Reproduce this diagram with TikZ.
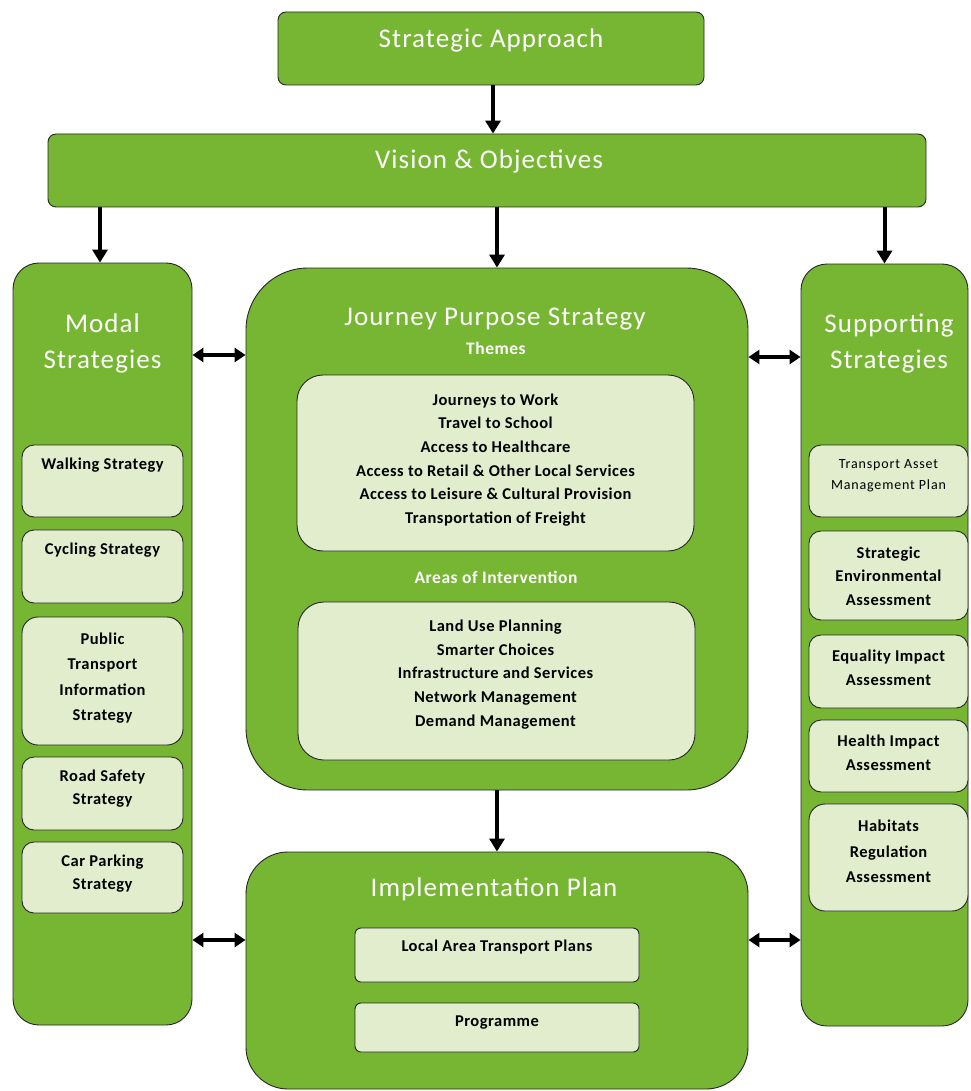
\documentclass[tikz,border=0pt]{standalone}
\usepackage{fontspec}
\setmainfont{Carlito}
\usetikzlibrary{shapes,arrows.meta,positioning}

\definecolor{leaf}{RGB}{118,182,50}
\definecolor{pale}{RGB}{225,237,205}

\tikzset{
    green box/.style={draw=black!85,line width=0.9pt,fill=leaf,rounded corners=#1,inner sep=0pt},
    green box/.default=10pt,
    pale box/.style={draw=black!85,line width=0.9pt,fill=pale,rounded corners=#1,inner sep=0pt},
    pale box/.default=10pt,
    heading/.style={text=white,font=\fontsize{27}{36}\selectfont\addfontfeatures{LetterSpace=4},align=center,inner sep=0pt},
    subhead/.style={text=white,font=\bfseries\fontsize{17.5}{20}\selectfont\addfontfeatures{LetterSpace=3},inner sep=0pt},
    item/.style={font=\bfseries\fontsize{16.5}{23.7}\selectfont\addfontfeatures{LetterSpace=3},align=center,inner sep=0pt},
    flow/.style={line width=4pt,-{Triangle[length=13pt,width=15pt]}},
    both/.style={line width=4pt,{Triangle[length=11pt,width=14pt]}-{Triangle[length=11pt,width=14pt]}}
}

\begin{document}
\begin{tikzpicture}[x=1pt,y=-1pt]
    \useasboundingbox (0,0) rectangle (970,1091);

    % top boxes
    \node[green box=8pt,minimum width=426pt,minimum height=73pt] (approach) at (491,48.5) {};
    \node[heading] (approachT) at (491,40) {Strategic Approach};
    \node[green box=8pt,minimum width=878pt,minimum height=73pt] (vision) at (487,170.5) {};
    \node[heading] (visionT) at (489,161) {Vision \& Objectives};

    % the three columns
    \node[green box=26pt,minimum width=179pt,minimum height=762pt] (modal) at (102.5,644) {};
    \node[heading] (modalT) at (102.5,343) {Modal\\Strategies};
    \node[green box=26pt,minimum width=167pt,minimum height=762pt] (supp) at (884.5,645) {};
    \node[heading] (suppT) at (889,343) {Supporting\\Strategies};
    \node[green box=62pt,minimum width=502pt,minimum height=522pt] (journey) at (497,529) {};
    \node[heading] (journeyT) at (495,319) {Journey Purpose Strategy};
    \node[subhead] (themesT) at (496,348) {Themes};
    \node[subhead] (areasT) at (496,577) {Areas of Intervention};

    \node[pale box=26pt,minimum width=397pt,minimum height=176pt] (themes) at (495.5,463) {};
    \node[item] (themesL) at (495.5,460) {Journeys to Work\\Travel to School\\Access to Healthcare\\
        Access to Retail \& Other Local Services\\Access to Leisure \& Cultural Provision\\Transportation of Freight};
    \node[pale box=26pt,minimum width=397pt,minimum height=158pt] (areas) at (496.5,681) {};
    \node[item] (areasL) at (495.5,674.5) {Land Use Planning\\Smarter Choices\\Infrastructure and Services\\
        Network Management\\Demand Management};

    \node[green box=42pt,minimum width=502pt,minimum height=237pt] (impl) at (497,970.5) {};
    \node[heading] (implT) at (494,889) {Implementation Plan};
    \node[pale box=6pt,minimum width=284pt,minimum height=54pt] (latp) at (497,955) {};
    \node[item] (latpT) at (497,947) {Local Area Transport Plans};
    \node[pale box=6pt,minimum width=284pt,minimum height=49pt] (prog) at (497,1027.5) {};
    \node[item] (progT) at (497,1023) {Programme};

    % modal strategies
    \node[pale box=12pt,minimum width=161pt,minimum height=72pt] (walk) at (102.5,481) {};
    \node[item] at (102.5,465) {Walking Strategy};
    \node[pale box=12pt,minimum width=161pt,minimum height=73pt] (cycle) at (102.5,566.5) {};
    \node[item] at (102.5,550) {Cycling Strategy};
    \node[pale box=16pt,minimum width=161pt,minimum height=128pt] (pti) at (102.5,681) {};
    \node[item,font=\bfseries\fontsize{16.5}{25.3}\selectfont\addfontfeatures{LetterSpace=3}] at (102.5,678) {Public\\Transport\\Information\\Strategy};
    \node[pale box=12pt,minimum width=161pt,minimum height=73pt] (road) at (102.5,793.5) {};
    \node[item] at (102.5,788.5) {Road Safety\\Strategy};
    \node[pale box=12pt,minimum width=161pt,minimum height=71pt] (park) at (102.5,877.5) {};
    \node[item] at (102.5,873.5) {Car Parking\\Strategy};

    % supporting strategies
    \node[pale box=12pt,minimum width=159pt,minimum height=72pt] (tamp) at (888.5,481) {};
    \node[font=\fontsize{14}{21}\selectfont\addfontfeatures{LetterSpace=6},align=center,inner sep=0pt] at (888.5,475.5) {Transport Asset\\Management Plan};
    \node[pale box=12pt,minimum width=159pt,minimum height=89pt] (sea) at (888.5,575.5) {};
    \node[item] at (888.5,576) {Strategic\\Environmental\\Assessment};
    \node[pale box=12pt,minimum width=159pt,minimum height=73pt] (eia) at (888.5,671.5) {};
    \node[item] at (888.5,667.5) {Equality Impact\\Assessment};
    \node[pale box=12pt,minimum width=159pt,minimum height=72pt] (hia) at (888.5,756) {};
    \node[item] at (888.5,752.5) {Health Impact\\Assessment};
    \node[pale box=16pt,minimum width=159pt,minimum height=107pt] (hra) at (888.5,857.5) {};
    \node[item,font=\bfseries\fontsize{16.5}{25.5}\selectfont\addfontfeatures{LetterSpace=3}] at (888.5,851.5) {Habitats\\Regulation\\Assessment};

    % arrows
    \draw[flow] (approach.south -| 493,0) -- (vision.north -| 493,0);
    \draw[flow] (vision.south -| 100,0) -- (modal.north -| 100,0);
    \draw[flow] (vision.south -| journey.north) -- (journey.north);
    \draw[flow] (vision.south -| supp.north) -- (supp.north);
    \draw[flow] (journey.south) -- (impl.north);

    \draw[both] (modal.east |- 0,355) -- (journey.west |- 0,355);
    \draw[both] (journey.east |- 0,357) -- (supp.west |- 0,357);
    \draw[both] (modal.east |- 0,940) -- (impl.west |- 0,940);
    \draw[both] (impl.east |- 0,940) -- (supp.west |- 0,940);
\end{tikzpicture}
\end{document}
